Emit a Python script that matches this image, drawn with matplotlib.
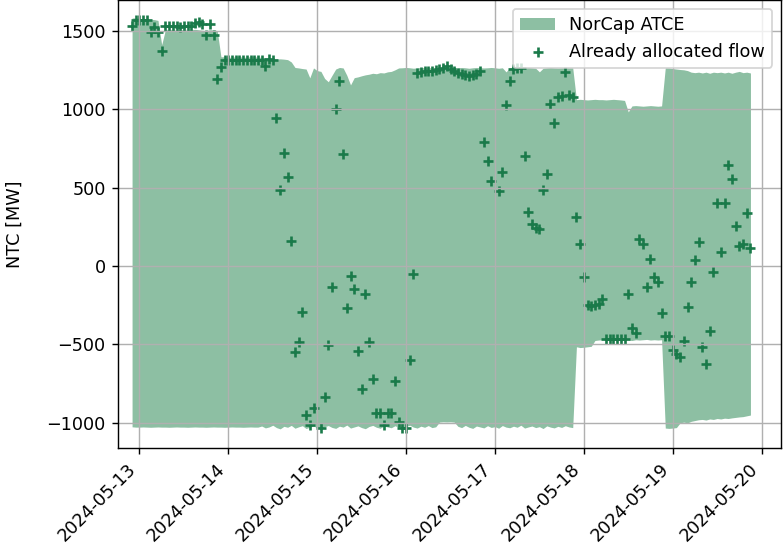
import numpy as np
import pandas as pd
import matplotlib
matplotlib.use('Agg')
import matplotlib.pyplot as plt
import matplotlib.dates as mdates

# hourly MTU timestamps (UTC)
times = pd.date_range('2024-05-12 22:00', periods=168, freq='h')

# NorCap ATCE band [MW]
atce_upper = (
    [1580, 1582, 1578, 1575, 1575, 1572, 1570, 1565]
    + [1410]
    + [1505, 1508, 1505, 1502, 1505, 1505, 1503, 1505, 1508, 1505, 1502, 1500, 1505, 1505]
    + [1500]
    + [1333, 1333, 1330, 1330, 1333, 1333, 1330, 1330, 1333, 1333, 1330, 1330, 1328, 1325,
       1320, 1318, 1320, 1318, 1315]
    + [1300, 1265, 1262, 1258, 1255, 1199, 1262, 1245, 1240, 1195, 1174, 1215, 1255, 1265,
       1262, 1215, 1154, 1200, 1205, 1212, 1218, 1222, 1228, 1225, 1232, 1230, 1237, 1240,
       1250, 1262]
    + [1263, 1265, 1263, 1260, 1263, 1265, 1263, 1262, 1265, 1263, 1260, 1263, 1265, 1263,
       1262, 1263, 1265, 1263, 1260, 1263, 1265, 1263, 1262, 1263, 1265, 1263, 1260, 1263]
    + [1237]
    + [1263, 1265, 1263, 1262, 1263, 1265, 1263, 1260]
    + [1237]
    + [1260, 1263, 1265, 1263, 1262, 1263, 1265, 1263, 1263]
    + [1060, 1062, 1060, 1058, 1060, 1062, 1060, 1060, 1058, 1060, 1062, 1060, 1058, 1055]
    + [982]
    + [1020, 1022, 1020, 1018, 1020, 1022, 1020, 1018, 1020]
    + [1263, 1262, 1258, 1255, 1252, 1250, 1245]
    + [1235, 1232, 1235, 1230, 1235, 1228, 1235, 1232, 1235, 1230, 1235, 1228, 1235, 1240,
       1232, 1235, 1230]
)

atce_lower = (
    [-1025, -1027, -1027, -1026, -1027, -1028, -1027, -1026, -1027, -1027, -1028, -1027,
     -1026, -1027, -1027, -1028, -1027, -1026, -1027, -1027, -1028, -1027, -1026, -1027,
     -1027, -1028, -1027, -1026, -1027, -1027, -1028, -1027, -1026, -1027, -1027]
    + [-1020, -1032, -1026, -1015, -1030, -1038, -1022, -1028, -1016, -1034,
       -1025, -1018, -1036, -1027, -1020, -1031, -1040, -1024, -1017, -1029,
       -1035, -1021, -1027, -1014, -1033, -1026, -1019, -1030, -1037, -1023,
       -1016, -1028, -1034, -1020, -1026, -1031, -1018, -1029, -1036, -1022,
       -1015, -1027, -1033, -1021, -1028, -1017, -1030, -1025]
    + [-995, -993, -994, -993, -995]
    + [-1022, -1030, -1016, -1028, -1035, -1020, -1026, -1032, -1018, -1029,
       -1024, -1034, -1017, -1027, -1031, -1021, -1028, -1015, -1033, -1026,
       -1020, -1030, -1024, -1036, -1019, -1027, -1032, -1022, -1029, -1018,
       -1026, -1030]
    + [-515, -520, -518, -515, -512]
    + [-475, -472, -470, -472, -475, -470, -472, -468, -470, -472, -475, -470, -472, -470,
       -468, -472, -470, -472, -470]
    + [-1033, -1035, -1033, -1030]
    + [-1000, -995, -1000, -990, -985]
    + [-980, -978, -982, -975, -978, -972, -975, -970, -972, -968, -965, -962, -960, -955,
       -950]
)

# already allocated flow [MW], nan = no value
allocated = (
    [1531, 1569, 1569, 1569, 1569, 1492, 1524, 1492, 1371, 1531]
    + [1531, 1528, 1531, 1525, 1531, 1528, 1531]
    + [1550, 1556, 1545, 1473, 1543, 1473, 1193, 1269]
    + [1314, 1314, 1314, 1314, 1314, 1314, 1314, 1314, 1314, 1314, 1314, 1276, 1320, 1314]
    + [944, 485, 721, 568, 160, -549, -485, -293, -950, -1014, -906]
    + [np.nan]
    + [-1033, -835, -504, -134, 1001, 1180, 714, -268, -64, -147, -542, -785, -179, -485,
       -721, -938, -938, -1014, -938, -938, -733, -995, -1033, -1033, -600, -51]
    + [1231, 1235, 1240, 1245, 1245, 1250, 1255, 1262, 1275, 1255, 1245, 1230, 1225, 1215,
       1210, 1215, 1225, 1240]
    + [789, 672, 544]
    + [np.nan]
    + [480, 598, 1023, 1180, 1255, 1260, 1263, 702, 346, 268, 240, 236, 485, 587, 1031, 910,
       1080, 1085, 1235, 1090, 1080]
    + [314, 138, -68, -249, -255, -249, -240, -212, -468, -468, -468, -468, -468, -468,
       -180, -393, -425, 172, 140, -132, 45, -68, -100, -302, -444, -444, -536, -561, -578,
       -476, -260, -100, 38, 151, -515, -627, -413, -36, 400, 87, 400, 642, 555, 255, 129,
       140, 340, 117]
)

dpi = 127
fig = plt.figure(figsize=(783 / dpi, 545 / dpi), dpi=dpi)
ax = fig.add_axes([118 / 783, 1 - 448 / 545, 663 / 783, 448 / 545])

ax.fill_between(times, atce_lower, atce_upper, color='#8dbfa3', linewidth=0,
                label='NorCap ATCE')
ax.scatter(times, allocated, marker='+', color='#1a7a4a', label='Already allocated flow')

ax.set_ylabel('NTC [MW]', labelpad=13)
ax.grid(True)
ax.legend(loc='upper right')

ax.xaxis.set_major_locator(mdates.DayLocator())
ax.xaxis.set_major_formatter(mdates.DateFormatter('%Y-%m-%d'))
plt.setp(ax.get_xticklabels(), rotation=45, ha='right')

ax.set_xlim(pd.Timestamp('2024-05-12 18:12'), pd.Timestamp('2024-05-20 05:15'))
ax.set_ylim(-1160, 1695)

fig.savefig('out.png', dpi=dpi)
